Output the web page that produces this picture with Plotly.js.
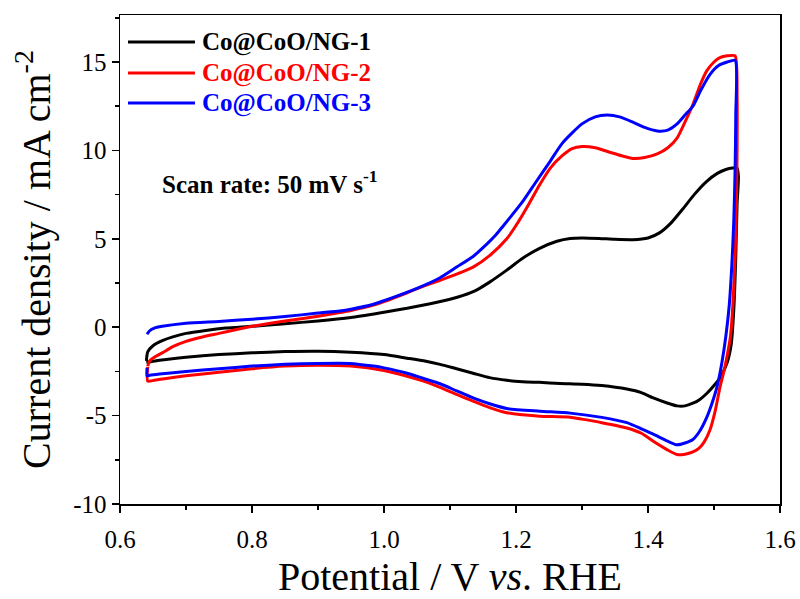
<!DOCTYPE html>
<html>
<head>
<meta charset="utf-8">
<script src="https://cdn.plot.ly/plotly-3.0.1.min.js"></script>
<style>html,body{margin:0;padding:0;background:#fff;}#chart{width:800px;height:599px;}</style>
</head>
<body>
<div id="chart"></div>
<script>
// Series names
const seriesNames = ["Co@CoO/NG-1", "Co@CoO/NG-2", "Co@CoO/NG-3"];
const seriesColors = ["#000000", "#ff0000", "#0000ff"];

// Co@CoO/NG-1 (potential V vs RHE, current density mA cm-2)
const ng1E = [0.640,0.642,0.650,0.665,0.68,0.70,0.73,0.76,0.80,0.85,0.90,0.95,1.00,1.035,1.07,1.10,1.12,1.14,1.16,1.185,1.21,1.235,1.262,1.282,1.30,1.326,1.35,1.377,1.40,1.418,1.435,1.453,1.47,1.489,1.505,1.518,1.528,1.535,
  1.537,1.535,1.533,1.530,1.526,1.520,1.510,1.500,1.489,1.478,1.468,1.456,1.444,1.43,1.408,1.39,1.368,1.33,1.30,1.267,1.235,1.21,1.186,1.16,1.135,1.11,1.085,1.06,1.035,1.00,0.95,0.90,0.85,0.80,0.75,0.70,0.67,0.65,0.640];
const ng1J = [-1.9,-1.4,-1.05,-0.75,-0.55,-0.35,-0.18,-0.05,0.05,0.2,0.35,0.55,0.85,1.07,1.33,1.58,1.8,2.1,2.55,3.2,3.9,4.45,4.86,5.02,5.05,5.02,4.97,4.95,5.05,5.35,5.9,6.7,7.5,8.25,8.7,8.92,9.0,9.0,
  8.5,7.0,4.0,1.0,-1.0,-2.0,-2.8,-3.3,-3.75,-4.1,-4.3,-4.45,-4.45,-4.3,-4.0,-3.7,-3.5,-3.3,-3.22,-3.18,-3.12,-3.08,-3.0,-2.85,-2.6,-2.35,-2.1,-1.9,-1.75,-1.55,-1.42,-1.36,-1.38,-1.45,-1.55,-1.7,-1.82,-1.92,-2.0];

// Co@CoO/NG-2
const ng2E = [0.642,0.645,0.652,0.664,0.68,0.70,0.725,0.75,0.78,0.80,0.85,0.90,0.933,0.95,0.984,1.00,1.035,1.055,1.085,1.11,1.135,1.16,1.186,1.20,1.22,1.235,1.252,1.27,1.285,1.30,1.32,1.342,1.36,1.377,1.395,1.414,1.43,1.444,1.456,1.468,1.479,1.489,1.50,1.509,1.52,1.532,
  1.535,1.535,1.534,1.532,1.529,1.525,1.520,1.515,1.509,1.502,1.494,1.485,1.477,1.468,1.456,1.444,1.43,1.408,1.39,1.368,1.33,1.30,1.282,1.236,1.21,1.186,1.16,1.135,1.11,1.085,1.06,1.035,1.00,0.95,0.90,0.85,0.80,0.75,0.70,0.67,0.652,0.642,0.642];
const ng2J = [-2.2,-1.9,-1.7,-1.45,-1.1,-0.8,-0.55,-0.35,-0.1,0.05,0.35,0.62,0.83,0.95,1.25,1.45,1.95,2.25,2.65,3.0,3.4,4.05,5.0,5.75,7.0,8.0,9.0,9.7,10.1,10.22,10.15,9.9,9.7,9.55,9.6,9.8,10.15,10.7,11.6,12.6,13.7,14.5,15.0,15.25,15.35,15.35,
  13.0,10.0,7.0,4.0,1.5,-0.5,-1.6,-2.5,-3.4,-4.7,-5.8,-6.5,-6.85,-7.05,-7.18,-7.2,-6.95,-6.45,-6.0,-5.7,-5.4,-5.2,-5.09,-5.03,-4.95,-4.84,-4.55,-4.18,-3.8,-3.4,-3.05,-2.77,-2.45,-2.2,-2.15,-2.2,-2.35,-2.55,-2.75,-2.9,-3.0,-3.05,-2.25];

// Co@CoO/NG-3
const ng3E = [0.641,0.645,0.652,0.664,0.70,0.75,0.80,0.85,0.90,0.933,0.95,0.984,1.00,1.05,1.085,1.11,1.135,1.15,1.17,1.18,1.21,1.23,1.252,1.27,1.30,1.32,1.338,1.357,1.377,1.395,1.414,1.43,1.444,1.456,1.468,1.48,1.494,1.507,1.52,1.532,
  1.533,1.532,1.530,1.527,1.523,1.518,1.512,1.505,1.497,1.489,1.478,1.468,1.456,1.444,1.43,1.408,1.39,1.368,1.33,1.282,1.236,1.186,1.16,1.135,1.11,1.085,1.06,1.035,1.00,0.984,0.948,0.90,0.85,0.80,0.75,0.70,0.66,0.645,0.641,0.641];
const ng3J = [-0.4,-0.2,-0.05,0.05,0.23,0.33,0.45,0.6,0.8,0.92,1.02,1.3,1.5,2.2,2.8,3.4,4.0,4.5,5.25,5.7,7.1,8.2,9.4,10.4,11.5,11.9,12.0,11.9,11.6,11.3,11.1,11.15,11.5,12.0,12.5,13.4,14.3,14.8,15.0,15.1,
  12.0,9.0,6.0,3.5,1.2,-0.5,-2.0,-3.3,-4.3,-5.1,-5.9,-6.35,-6.55,-6.65,-6.45,-6.05,-5.75,-5.4,-5.1,-4.86,-4.75,-4.6,-4.33,-4.0,-3.6,-3.2,-2.9,-2.6,-2.3,-2.2,-2.05,-2.05,-2.1,-2.2,-2.35,-2.5,-2.65,-2.72,-2.75,-2.3];

const xTickVals = [0.6, 0.8, 1.0, 1.2, 1.4, 1.6];
const xTickText = ["0.6", "0.8", "1.0", "1.2", "1.4", "1.6"];
const yTickVals = [-10, -5, 0, 5, 10, 15];
const yTickText = ["-10", "-5", "0", "5", "10", "15"];

const serif = "'Liberation Serif', 'Times New Roman', serif";
const allE = [ng1E, ng2E, ng3E];
const allJ = [ng1J, ng2J, ng3J];

const traces = allE.map((e, i) => ({
  type: "scatter", mode: "lines",
  x: e, y: allJ[i], name: seriesNames[i],
  line: {color: seriesColors[i], width: 3, shape: "spline", smoothing: 0.6},
  showlegend: false
}));

// legend drawn as short lines + coloured bold labels
const legRows = [0.9448, 0.8814, 0.8200];
const shapes = legRows.map((yy, i) => ({
  type: "line", xref: "paper", yref: "paper",
  x0: 0.0121, x1: 0.1136, y0: yy, y1: yy,
  line: {color: seriesColors[i], width: 3}
}));
const annotations = legRows.map((yy, i) => ({
  xref: "paper", yref: "paper", x: 0.1212, y: yy,
  xanchor: "left", yanchor: "middle", showarrow: false,
  text: "<b>" + seriesNames[i] + "</b>",
  font: {family: serif, size: 25, color: seriesColors[i]}
}));
annotations.push({
  xref: "paper", yref: "paper", x: 0.0606, y: 0.6585,
  xanchor: "left", yanchor: "middle", showarrow: false,
  text: "<b>Scan rate: 50 mV s<sup>-1</sup></b>",
  font: {family: serif, size: 25, color: "#000"}
});

const axisCommon = {
  showline: true, linecolor: "#000", linewidth: 1.5, mirror: true,
  ticks: "outside", ticklen: 7, tickwidth: 1.5, tickcolor: "#000",
  showgrid: false, zeroline: false,
  tickfont: {family: serif, size: 25, color: "#000"}
};

const layout = {
  width: 800, height: 599,
  paper_bgcolor: "#fff", plot_bgcolor: "#fff",
  margin: {l: 120, r: 20, t: 15, b: 95},
  xaxis: Object.assign({}, axisCommon, {
    range: [0.6, 1.6], tickmode: "array", tickvals: xTickVals, ticktext: xTickText,
    ticklabelstandoff: 5,
    minor: {dtick: 0.1, tick0: 0.6, ticks: "outside", ticklen: 4, tickwidth: 1.5, tickcolor: "#000", showgrid: false},
    title: {text: "Potential / V <i>vs</i>. RHE", font: {family: serif, size: 40, color: "#000"}, standoff: 10}
  }),
  yaxis: Object.assign({}, axisCommon, {
    range: [-10, 17.66], tickmode: "array", tickvals: yTickVals, ticktext: yTickText,
    minor: {dtick: 2.5, tick0: -10, ticks: "outside", ticklen: 4, tickwidth: 1.5, tickcolor: "#000", showgrid: false},
    title: {text: "Current density / mA cm<sup>-2</sup>", font: {family: serif, size: 40, color: "#000"}, standoff: 10}
  }),
  shapes: shapes,
  annotations: annotations,
  showlegend: false
};

Plotly.newPlot("chart", traces, layout, {displayModeBar: false, staticPlot: true});
</script>
</body>
</html>
